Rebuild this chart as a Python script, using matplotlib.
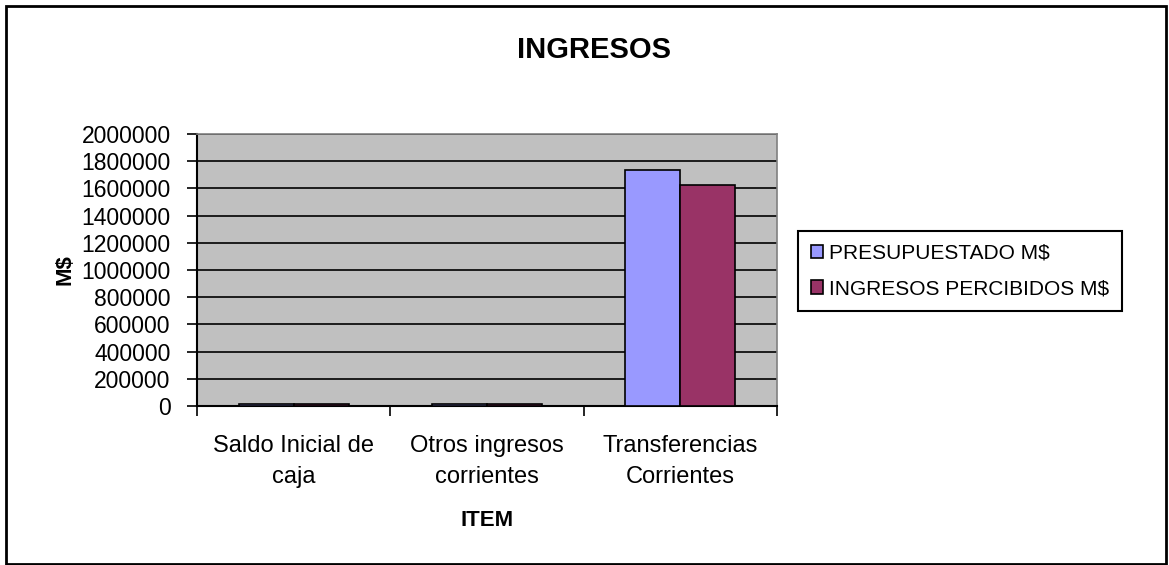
import matplotlib
matplotlib.use("Agg")
import matplotlib.pyplot as plt
from matplotlib.patches import Rectangle
import numpy as np

plt.rcParams['font.family'] = ['Liberation Sans', 'DejaVu Sans']

categories = ["Saldo Inicial de\ncaja", "Otros ingresos\ncorrientes", "Transferencias\nCorrientes"]
presupuestado = [12000, 12000, 1735000]
percibidos = [12000, 12000, 1625000]
series_names = ["PRESUPUESTADO M$", "INGRESOS PERCIBIDOS M$"]
yticks = [0, 200000, 400000, 600000, 800000, 1000000, 1200000, 1400000, 1600000, 1800000, 2000000]

W, H = 1169, 565
fig = plt.figure(figsize=(W / 100, H / 100), dpi=100)
ax = fig.add_axes([197 / W, 1 - 406 / H, (777 - 197) / W, (406 - 134) / H])
ax.set_facecolor('#C0C0C0')

x = np.arange(len(categories))
bw = 0.285
ax.bar(x - bw / 2, presupuestado, bw, color='#9999FF', edgecolor='black', linewidth=1.2,
       label=series_names[0], zorder=3)
ax.bar(x + bw / 2, percibidos, bw, color='#993366', edgecolor='black', linewidth=1.2,
       label=series_names[1], zorder=3)

ax.set_xlim(-0.5, len(categories) - 0.5)
ax.set_ylim(0, 2000000)
ax.set_yticks(yticks)
ax.set_yticklabels([str(v) for v in yticks], fontsize=16.5)
ax.yaxis.grid(True, color='black', linewidth=1.2, zorder=0)
ax.set_axisbelow(True)

ax.set_xticks(x)
ax.set_xticklabels(categories, fontsize=17, linespacing=1.5)
ax.set_xticks(np.arange(-0.5, len(categories), 1.0), minor=True)
ax.tick_params(axis='x', which='major', length=0, pad=21)
ax.tick_params(axis='x', which='minor', length=7, width=1.2, direction='out')
ax.tick_params(axis='y', length=7, width=1.2, direction='out', pad=12)

for s in ['top', 'right']:
    ax.spines[s].set_color('#808080')
    ax.spines[s].set_linewidth(1.2)
for s in ['left', 'bottom']:
    ax.spines[s].set_color('black')
    ax.spines[s].set_linewidth(1.5)

ax.set_ylabel("M$", fontsize=16, fontweight='bold', labelpad=4)
ax.set_xlabel("ITEM", fontsize=16, fontweight='bold', labelpad=16)

fig.text(594 / W, 1 - 50 / H, "INGRESOS", fontsize=21, fontweight='bold', ha='center', va='center')

leg = fig.legend(loc='center left', bbox_to_anchor=(798 / W, 1 - 271 / H), fontsize=15,
                 frameon=True, fancybox=False, edgecolor='black', framealpha=1,
                 handlelength=0.6, handleheight=0.6, handletextpad=0.3, labelspacing=0.8,
                 borderpad=0.6, borderaxespad=0)
leg.get_frame().set_linewidth(1.5)

fig.patches.append(Rectangle((6 / W, 1 / H), (1166 - 6) / W, (559 - 1) / H, transform=fig.transFigure,
                             fill=False, edgecolor='black', linewidth=2))

fig.savefig("out.png", dpi=100)
